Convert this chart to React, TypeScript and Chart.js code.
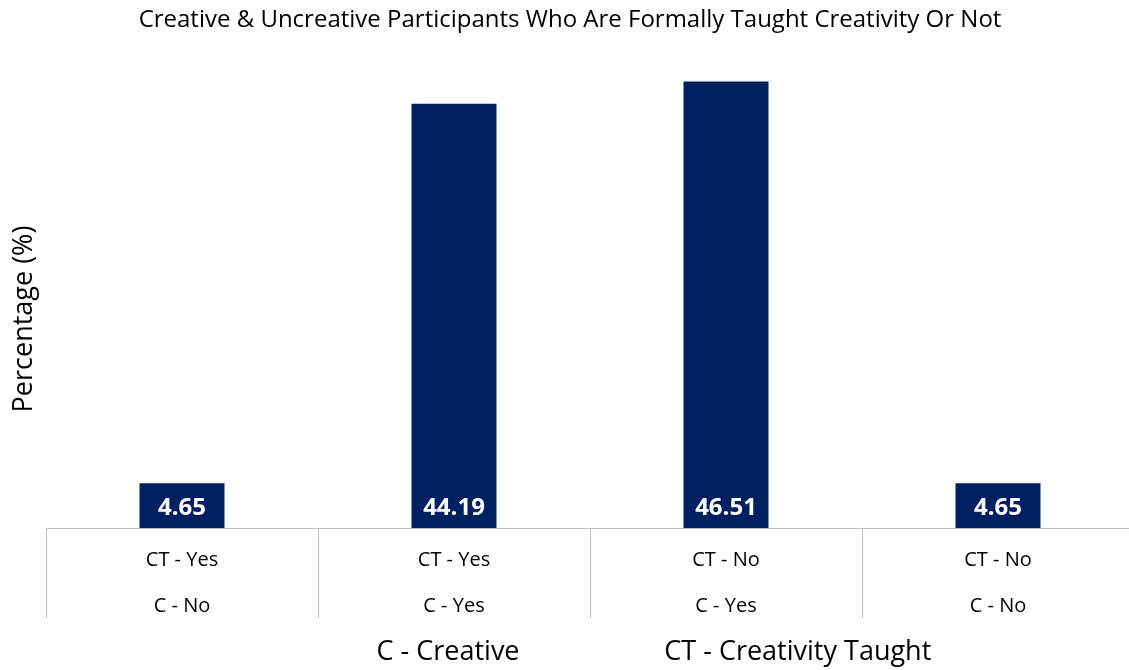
import React, { useEffect, useRef } from "react";
import { Chart, registerables } from "chart.js";

Chart.register(...registerables);

const categories: string[][] = [
  ["CT - Yes", "C - No"],
  ["CT - Yes", "C - Yes"],
  ["CT - No", "C - Yes"],
  ["CT - No", "C - No"],
];
const percentages: number[] = [4.65, 44.19, 46.51, 4.65];
const chartTitle = "Creative & Uncreative Participants Who Are Formally Taught Creativity Or Not";
const yAxisTitle = "Percentage (%)";
const footnotes: string[] = ["C - Creative", "CT - Creativity Taught"];

const FONT = "'Open Sans', 'Noto Sans', sans-serif";
const BAR_COLOR = "#002060";

const overlayPlugin = {
  id: "overlayText",
  afterDatasetsDraw(chart: any) {
    const ctx = chart.ctx;
    const area = chart.chartArea;
    ctx.save();
    // chart title, centred on the full canvas
    ctx.fillStyle = "#000000";
    ctx.font = `24px ${FONT}`;
    ctx.textAlign = "center";
    ctx.textBaseline = "middle";
    ctx.fillText(chartTitle, chart.width / 2, 20);
    // value labels inside bars
    const meta = chart.getDatasetMeta(0);
    ctx.fillStyle = "#ffffff";
    ctx.font = `bold 24px ${FONT}`;
    meta.data.forEach((bar: any, i: number) => {
      ctx.fillText(percentages[i].toFixed(2), bar.x, bar.base - 20);
    });
    // y-axis title
    ctx.fillStyle = "#000000";
    ctx.font = `27px ${FONT}`;
    ctx.translate(24, 319);
    ctx.rotate(-Math.PI / 2);
    ctx.fillText(yAxisTitle, 0, 0);
    ctx.restore();
    // footnotes
    ctx.save();
    ctx.fillStyle = "#000000";
    ctx.font = `27px ${FONT}`;
    ctx.textAlign = "center";
    ctx.textBaseline = "middle";
    const w = area.right - area.left;
    ctx.fillText(footnotes[0], area.left + w * 0.3695, 652);
    ctx.fillText(footnotes[1], area.left + w * 0.691, 652);
    ctx.restore();
  },
};

export default function App() {
  const canvasRef = useRef<HTMLCanvasElement | null>(null);

  useEffect(() => {
    const canvas = canvasRef.current;
    if (!canvas) return;
    const chart = new Chart(canvas, {
      type: "bar",
      data: {
        labels: categories,
        datasets: [
          {
            data: percentages,
            backgroundColor: BAR_COLOR,
            borderWidth: 0,
            barPercentage: 0.3125,
            categoryPercentage: 1,
          },
        ],
      },
      options: {
        responsive: false,
        animation: false,
        layout: { padding: { left: 46, right: 6, top: 48, bottom: 0 } },
        plugins: {
          legend: { display: false },
          tooltip: { enabled: false },
          title: { display: false },
        },
        scales: {
          y: {
            display: false,
            min: 0,
            max: 50,
          },
          x: {
            offset: true,
            grid: {
              offset: true,
              drawOnChartArea: false,
              drawTicks: true,
              tickLength: 90,
              color: "#BFBFBF",
              lineWidth: 1,
            },
            border: { display: true, color: "#BFBFBF", width: 1 },
            ticks: {
              color: "#000000",
              padding: -81,
              maxRotation: 0,
              autoSkip: false,
              font: { family: FONT, size: 20, lineHeight: 2.3 },
            },
            afterFit(scale: any) {
              scale.height = 142;
            },
          },
        },
      },
      plugins: [overlayPlugin],
    });
    return () => chart.destroy();
  }, []);

  return (
    <div style={{ position: "fixed", left: 0, top: 0, width: 1129, height: 670, overflow: "hidden", background: "#fff" }}>
      <canvas ref={canvasRef} width={1140} height={670} style={{ display: "block" }} />
    </div>
  );
}
